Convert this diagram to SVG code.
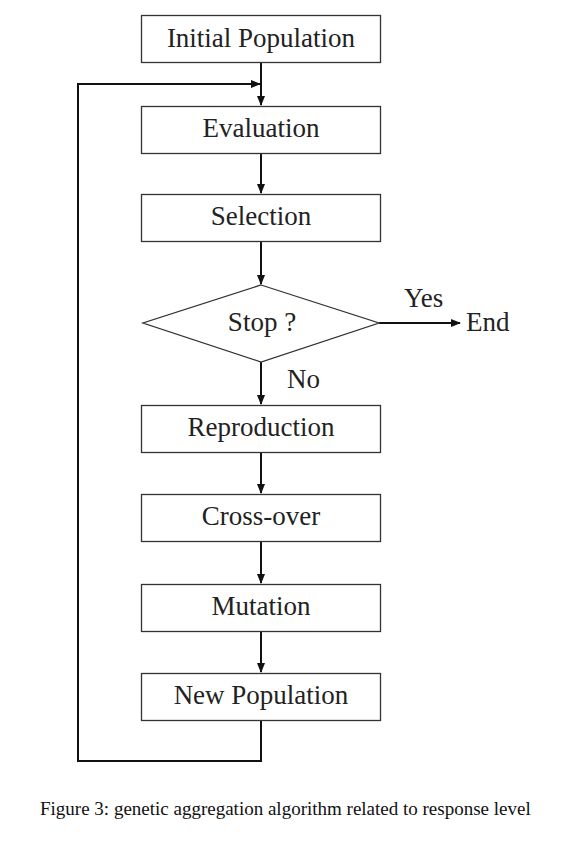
<svg xmlns="http://www.w3.org/2000/svg" width="566" height="843" viewBox="0 0 566 843">
<style>
.box{fill:#fff;stroke:#333;stroke-width:1.3}
.t{font-family:"Liberation Serif","DejaVu Serif",serif;font-size:27px;fill:#222;text-anchor:middle}
.l{font-family:"Liberation Serif","DejaVu Serif",serif;font-size:27px;fill:#222}
.c{stroke:#111;stroke-width:2;fill:none}
.cap{font-family:"Liberation Serif","Times New Roman",serif;font-size:19px;fill:#111}
</style>
<defs>
<marker id="ah" markerWidth="10" markerHeight="8" refX="9" refY="4" orient="auto" markerUnits="userSpaceOnUse">
<path d="M0,0 L10,4 L0,8 Z" fill="#111"/>
</marker>
</defs>
<rect width="566" height="843" fill="#fff"/>
<g id="connectors">
<line class="c" x1="261" y1="62" x2="261" y2="105" marker-end="url(#ah)"/>
<line class="c" x1="261" y1="153" x2="261" y2="193" marker-end="url(#ah)"/>
<line class="c" x1="261" y1="241" x2="261" y2="284" marker-end="url(#ah)"/>
<line class="c" x1="379" y1="323" x2="460" y2="323" marker-end="url(#ah)"/>
<line class="c" x1="261" y1="362" x2="261" y2="404" marker-end="url(#ah)"/>
<line class="c" x1="261" y1="452" x2="261" y2="493" marker-end="url(#ah)"/>
<line class="c" x1="261" y1="541" x2="261" y2="583" marker-end="url(#ah)"/>
<line class="c" x1="261" y1="631" x2="261" y2="672" marker-end="url(#ah)"/>
<polyline class="c" points="261,720 261,761 78,761 78,84 260,84" marker-end="url(#ah)"/>
</g>
<g id="initial"><rect class="box" x="141.5" y="15.5" width="239" height="47"/><text class="t" x="261" y="47">Initial Population</text></g>
<g id="evaluation"><rect class="box" x="141.5" y="106.5" width="239" height="47"/><text class="t" x="261" y="137">Evaluation</text></g>
<g id="selection"><rect class="box" x="141.5" y="194.5" width="239" height="47"/><text class="t" x="261" y="225">Selection</text></g>
<g id="stop"><polygon class="box" points="261,285 379,323 261,362 143,323"/><text class="t" x="262" y="331">Stop ?</text></g>
<g id="end"><text class="l" x="466" y="331">End</text></g>
<g id="labels"><text class="l" x="404" y="307">Yes</text><text class="l" x="287" y="388">No</text></g>
<g id="reproduction"><rect class="box" x="141.5" y="405.5" width="239" height="47"/><text class="t" x="261" y="436">Reproduction</text></g>
<g id="crossover"><rect class="box" x="141.5" y="494.5" width="239" height="47"/><text class="t" x="261" y="525">Cross-over</text></g>
<g id="mutation"><rect class="box" x="141.5" y="584.5" width="239" height="47"/><text class="t" x="261" y="615">Mutation</text></g>
<g id="newpop"><rect class="box" x="141.5" y="673.5" width="239" height="47"/><text class="t" x="261" y="704">New Population</text></g>
<text class="cap" x="40" y="815">Figure 3: genetic aggregation algorithm related to response level</text>
</svg>
